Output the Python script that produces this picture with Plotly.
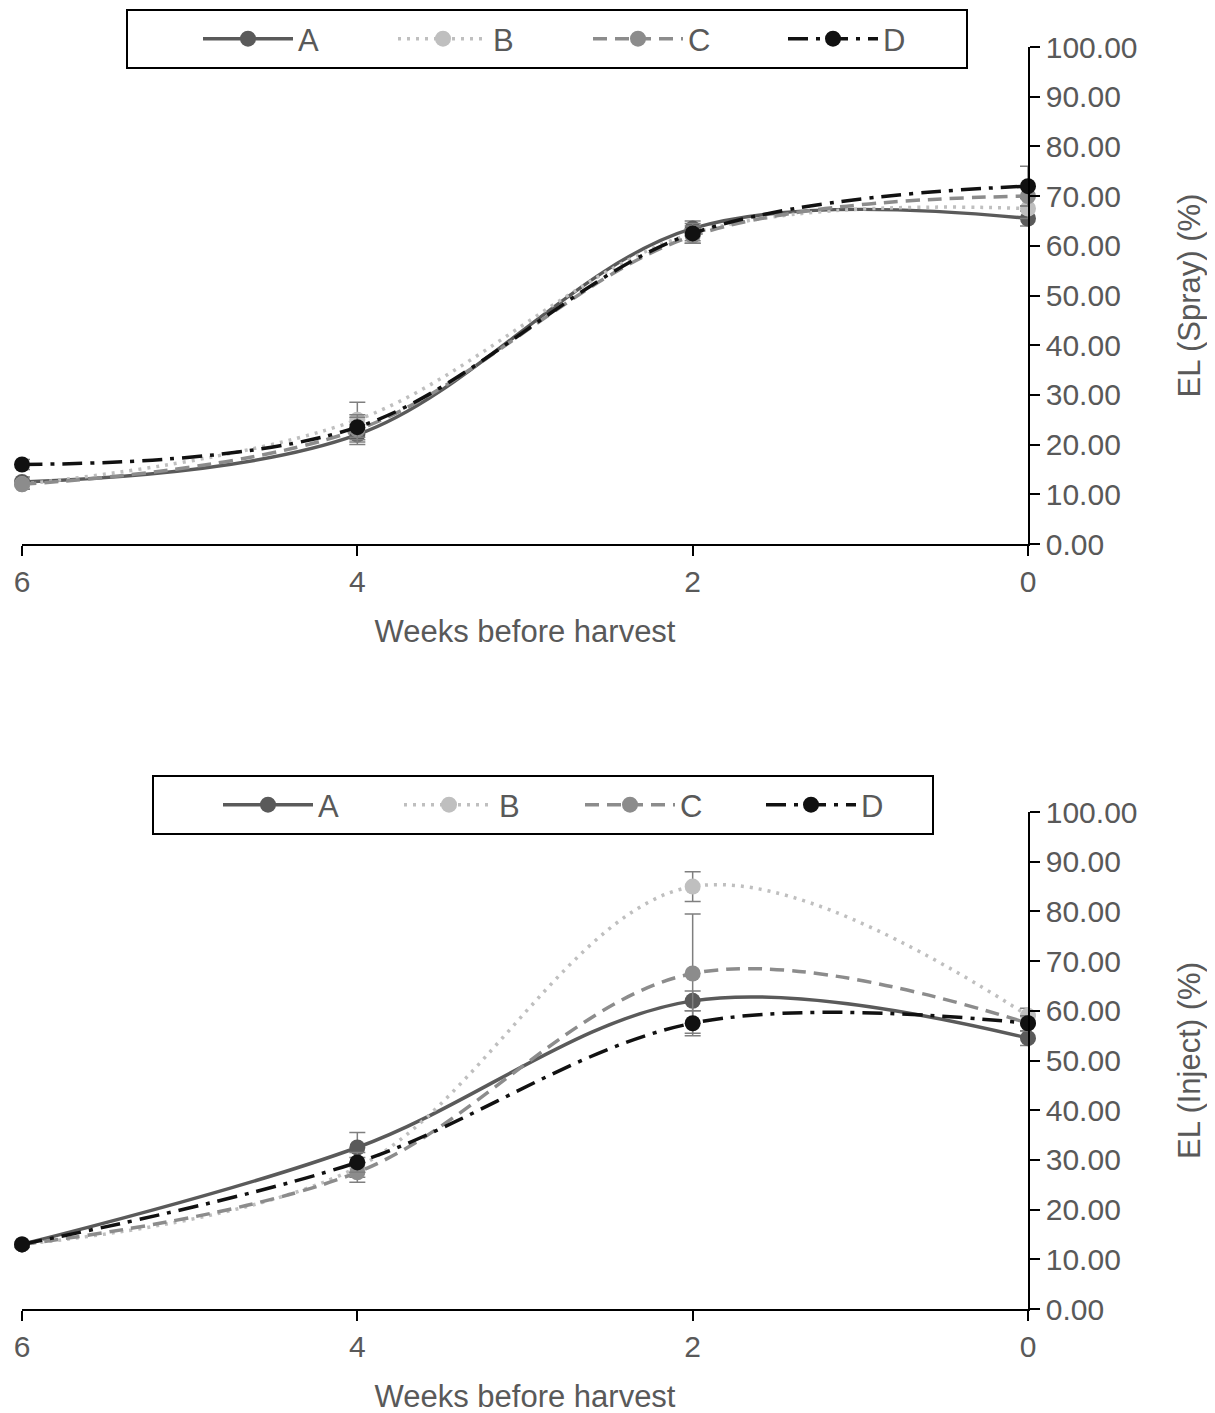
import plotly.graph_objects as go

weeks = [6, 4, 2, 0]
series = ["A", "B", "C", "D"]

spray_A = [12.5, 22.0, 63.5, 65.5]
spray_B = [12.0, 25.0, 62.5, 67.5]
spray_C = [12.0, 23.0, 62.0, 70.0]
spray_D = [16.0, 23.5, 62.5, 72.0]
spray_err_A = [1.0, 2.0, 1.5, 1.5]
spray_err_B = [1.0, 3.5, 1.5, 2.0]
spray_err_C = [1.0, 2.5, 1.5, 2.0]
spray_err_D = [1.0, 2.5, 2.0, 4.0]

inject_A = [13.0, 32.5, 62.0, 54.5]
inject_B = [13.0, 28.5, 85.0, 59.0]
inject_C = [13.0, 27.5, 67.5, 57.5]
inject_D = [13.0, 29.5, 57.5, 57.5]
inject_err_A = [0.5, 3.0, 2.0, 1.5]
inject_err_B = [0.5, 2.0, 3.0, 1.5]
inject_err_C = [0.5, 2.0, 12.0, 1.5]
inject_err_D = [0.5, 2.0, 2.5, 1.5]

y_ticks = [0, 10, 20, 30, 40, 50, 60, 70, 80, 90, 100]
x_ticks = [6, 4, 2, 0]

colors = {"A": "#5a5a5a", "B": "#bfbfbf", "C": "#8c8c8c", "D": "#111111"}
dashes = {"A": "solid", "B": "3px,6px", "C": "14px,8px", "D": "20px,8px,4px,8px"}

spray = {"A": (spray_A, spray_err_A), "B": (spray_B, spray_err_B),
         "C": (spray_C, spray_err_C), "D": (spray_D, spray_err_D)}
inject = {"A": (inject_A, inject_err_A), "B": (inject_B, inject_err_B),
          "C": (inject_C, inject_err_C), "D": (inject_D, inject_err_D)}

FONT = "Liberation Sans, Arial, sans-serif"
GREY = "#595959"
W, H = 1215.0, 1413.0
OFF = 8  # page body margin
L = 22 - OFF
R = W - (1028 - OFF)
PW = W - L - R


def px_x(p):
    return (p - OFF - L) / PW


def px_y(p):
    return 1 - (p - OFF) / H


fig = go.Figure()

for data, xa, ya, lg in [(spray, "x", "y", "legend"), (inject, "x2", "y2", "legend2")]:
    for s in series:
        vals, err = data[s]
        fig.add_trace(go.Scatter(
            x=weeks, y=vals, name=s, xaxis=xa, yaxis=ya, legend=lg,
            mode="lines+markers",
            line=dict(color=colors[s], width=3.5, dash=dashes[s], shape="spline", smoothing=1.0),
            marker=dict(color=colors[s], size=16),
            error_y=dict(type="data", array=err, visible=True, color="#7f7f7f", thickness=1.5, width=8),
            cliponaxis=False,
        ))

top_dom = [px_y(544), px_y(47)]
bot_dom = [px_y(1309), px_y(812)]

axis_x = dict(range=[6, 0], tickvals=x_ticks, ticktext=[str(v) for v in x_ticks],
              showgrid=False, zeroline=False, showline=True, linecolor="#000", linewidth=1.5,
              ticks="outside", ticklen=10, tickcolor="#000", tickwidth=1.5, automargin=False,
              tickfont=dict(size=30, color=GREY, family=FONT),
              title=dict(text="Weeks before harvest", font=dict(size=31, color=GREY, family=FONT), standoff=24))
axis_y = dict(range=[0, 100], tickvals=y_ticks, ticktext=["%.2f" % v for v in y_ticks],
              side="right", showgrid=False, zeroline=False, showline=True, linecolor="#000", linewidth=1.5,
              ticks="outside", ticklen=10, tickcolor="#000", tickwidth=1.5, automargin=False,
              tickfont=dict(size=30, color=GREY, family=FONT))

legend_common = dict(orientation="h", xref="paper", yref="paper", xanchor="left", yanchor="middle",
                     borderwidth=0, bgcolor="rgba(0,0,0,0)",
                     font=dict(size=31, color=GREY, family=FONT),
                     entrywidthmode="pixels", itemwidth=90)

fig.update_layout(
    width=int(W), height=int(H),
    margin=dict(l=L, r=R, t=0, b=0, autoexpand=False),
    paper_bgcolor="white", plot_bgcolor="white",
    font=dict(family=FONT, color=GREY),
    xaxis=dict(axis_x, domain=[0, 1], anchor="y"),
    yaxis=dict(axis_y, domain=top_dom, anchor="x",
               title=dict(text="EL (Spray) (%)", font=dict(size=31, color=GREY, family=FONT), standoff=42)),
    xaxis2=dict(axis_x, domain=[0, 1], anchor="y2"),
    yaxis2=dict(axis_y, domain=bot_dom, anchor="x2",
                title=dict(text="EL (Inject) (%)", font=dict(size=31, color=GREY, family=FONT), standoff=42)),
    legend=dict(legend_common, x=px_x(198), y=px_y(39), entrywidth=90),
    legend2=dict(legend_common, x=px_x(218), y=px_y(805), entrywidth=76),
    shapes=[
        dict(type="rect", xref="paper", yref="paper", x0=px_x(127), x1=px_x(967), y0=px_y(68), y1=px_y(10),
             line=dict(color="#000", width=2), fillcolor="rgba(0,0,0,0)", layer="below"),
        dict(type="rect", xref="paper", yref="paper", x0=px_x(153), x1=px_x(933), y0=px_y(834), y1=px_y(776),
             line=dict(color="#000", width=2), fillcolor="rgba(0,0,0,0)", layer="below"),
    ],
)

fig.write_html("out.html")
